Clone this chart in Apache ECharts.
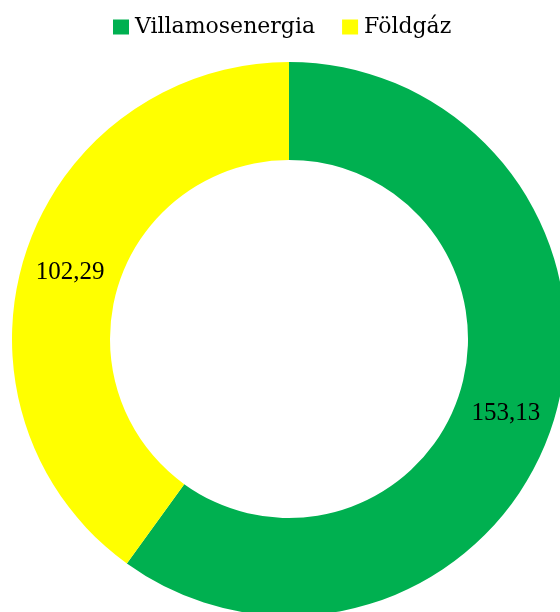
<!DOCTYPE html>
<html>
<head>
<meta charset="utf-8">
<style>
  html, body { margin: 0; padding: 0; background: #fff; }
  #chart { width: 560px; height: 612px; }
</style>
<script src="https://cdn.jsdelivr.net/npm/echarts@6/dist/echarts.min.js"></script>
</head>
<body>
<div id="chart"></div>
<script>
const categories = ['Villamosenergia', 'Földgáz']
const values = [153.13, 102.29]
const colors = ['#00B050', '#FFFF00']

const chart = echarts.init(document.getElementById('chart'))

const seriesData = categories.map((name, i) => ({
  name: name,
  value: values[i],
  itemStyle: { color: colors[i] },
  label: { offset: i === 0 ? [-3, 3] : [1, 4] }
}))

chart.setOption({
  animation: false,
  legend: {
    top: 16,
    left: 113,
    padding: 0,
    itemWidth: 16,
    itemHeight: 15,
    itemGap: 27,
    icon: 'rect',
    textStyle: {
      fontFamily: '"DejaVu Serif", serif',
      fontSize: 22,
      color: '#000',
      padding: [0, 0, 0, 1]
    },
    data: categories
  },
  series: [{
    type: 'pie',
    center: [289, 339],
    radius: [179, 277],
    startAngle: 90,
    clockwise: true,
    label: {
      show: true,
      position: 'inside',
      fontFamily: '"Liberation Serif", serif',
      fontSize: 25,
      color: '#000',
      formatter: p => p.value.toFixed(2).replace('.', ',')
    },
    labelLine: { show: false },
    emphasis: { disabled: true },
    data: seriesData
  }]
})
</script>
</body>
</html>
